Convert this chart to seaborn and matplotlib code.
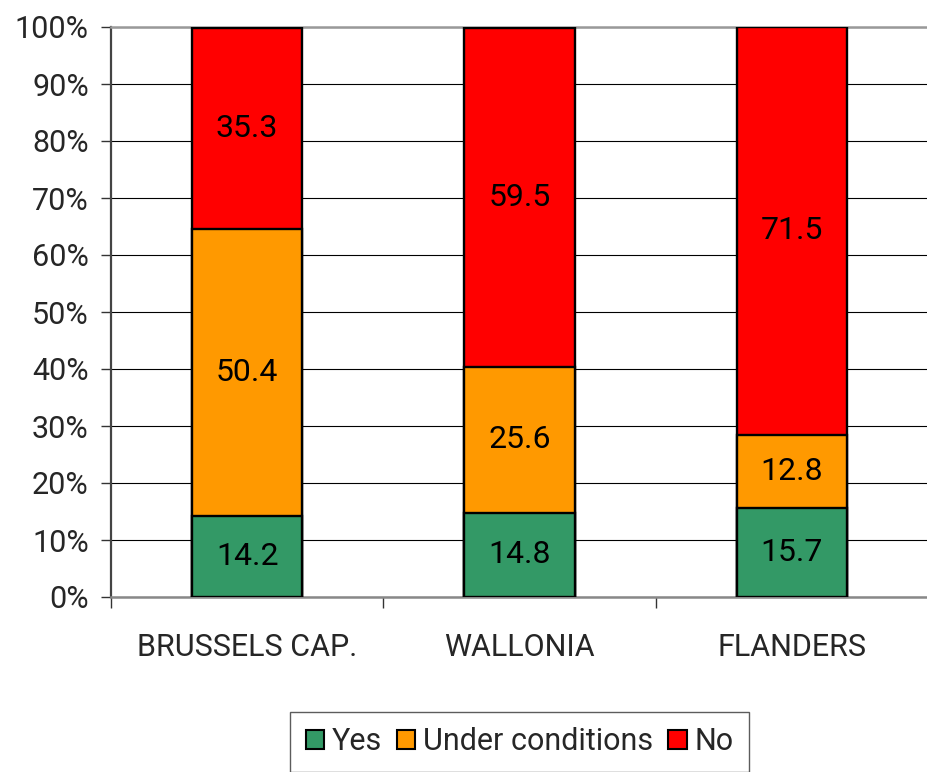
import matplotlib.pyplot as plt
import seaborn as sns
import pandas as pd

regions = ['BRUSSELS CAP.', 'WALLONIA', 'FLANDERS']
yes = [14.2, 14.8, 15.7]
under_conditions = [50.4, 25.6, 12.8]
no = [35.3, 59.5, 71.5]
series_names = ['Yes', 'Under conditions', 'No']
colors = ['#339966', '#FF9900', '#FF0000']

sns.set_style('white')
plt.rcParams['font.family'] = ['Roboto', 'DejaVu Sans']

df = pd.DataFrame({'region': regions, 'Yes': yes,
                   'Under conditions': under_conditions, 'No': no})
df['c1'] = df['Yes']
df['c2'] = df['c1'] + df['Under conditions']
df['c3'] = df['c2'] + df['No']

fig = plt.figure(figsize=(9.28, 7.72), dpi=100)
ax = fig.add_axes([111 / 928, 1 - 597 / 772, 1 - 111 / 928, (597 - 27) / 772])

# stacked bars: draw cumulative totals from the top down
for col, color in zip(['c3', 'c2', 'c1'], colors[::-1]):
    sns.barplot(data=df, x='region', y=col, color=color, width=0.405,
                edgecolor='black', linewidth=1.7, saturation=1, ax=ax, zorder=3)

# value labels in the middle of each segment
for i in range(len(regions)):
    starts = [0, df['c1'][i], df['c2'][i]]
    for s, name in zip(starts, series_names):
        v = df[name][i]
        ax.text(i, s + v / 2, f'{v:.1f}', ha='center', va='center',
                fontsize=23, color='black', zorder=4)

ax.set_ylim(0, 100)
ax.set_xlim(-0.5, 2.5)
ax.set_yticks(range(0, 101, 10))
ax.set_yticklabels([f'{t}%' for t in range(0, 101, 10)], fontsize=22)
ax.yaxis.grid(True, color='black', linewidth=0.8, zorder=0)
ax.xaxis.grid(False)
ax.set_axisbelow(True)

ax.set_xticks([-0.5, 0.5, 1.5, 2.5])
ax.set_xticklabels([])
ax.set_xticks(range(len(regions)), minor=True)
ax.set_xticklabels(regions, minor=True, fontsize=22)
ax.tick_params(axis='x', which='major', direction='out', length=8, width=1,
               color='#333333', bottom=True)
ax.tick_params(axis='x', which='minor', length=0, pad=26)
ax.tick_params(axis='y', direction='out', length=7, width=1, color='#333333',
               left=True, pad=9)
ax.set_xlabel('')
ax.set_ylabel('')

ax.spines['right'].set_visible(False)
ax.spines['top'].set_color('#999999')
ax.spines['top'].set_linewidth(1.8)
ax.spines['left'].set_color('#444444')
ax.spines['left'].set_linewidth(1.6)
ax.spines['bottom'].set_color('#888888')
ax.spines['bottom'].set_linewidth(1.8)

handles = [plt.Rectangle((0, 0), 1, 1, facecolor=c, edgecolor='black', linewidth=1.5)
           for c in colors]
leg = fig.legend(handles, series_names, loc='upper center', ncol=3,
                 bbox_to_anchor=(519.5 / 928, 1 - 712 / 772), fontsize=22,
                 frameon=True, fancybox=False, handlelength=0.6, handleheight=0.6,
                 handletextpad=0.25, columnspacing=0.5, borderpad=0.5,
                 borderaxespad=0)
leg.get_frame().set_edgecolor('#333333')
leg.get_frame().set_linewidth(1.0)

fig.savefig('out.png', dpi=100)
